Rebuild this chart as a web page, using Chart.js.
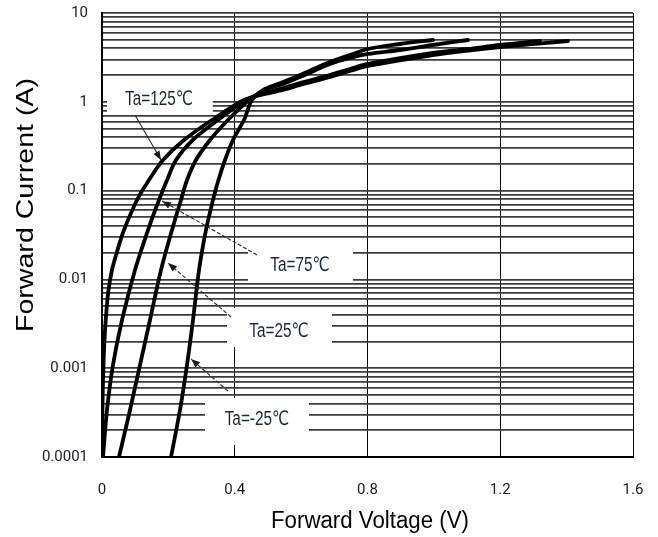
<!DOCTYPE html>
<html><head><meta charset="utf-8">
<script src="https://cdn.jsdelivr.net/npm/chart.js@4.4.1/dist/chart.umd.min.js"></script>
<style>html,body{margin:0;padding:0;background:#fff;}#wrap{width:658px;height:537px;position:relative;}</style>
</head><body><div id="wrap"><canvas id="c" width="658" height="537"></canvas></div>
<script>
// ---- data ----
const seriesNames = ['Ta=125℃', 'Ta=75℃', 'Ta=25℃', 'Ta=-25℃'];
const v125 = [0, 0.0009, 0.003, 0.0075, 0.0136, 0.0196, 0.0301, 0.0467, 0.0663, 0.1055, 0.1416, 0.1838, 0.2471, 0.3314, 0.4278, 0.4911, 0.5454, 0.5966, 0.687, 0.7472, 0.8015, 0.9973, 1.1992, 1.404];
const i125 = [0.0001, 0.000261, 0.000736, 0.00208, 0.00452, 0.0076, 0.01276, 0.02143, 0.03598, 0.07834, 0.1316, 0.2211, 0.3713, 0.6237, 1.048, 1.224, 1.358, 1.546, 1.902, 2.223, 2.53, 3.365, 4.141, 4.838];
const v75 = [0.003, 0.015, 0.0331, 0.0603, 0.0994, 0.1386, 0.1717, 0.196, 0.223, 0.2732, 0.3495, 0.4339, 0.4911, 0.5454, 0.5966, 0.687, 0.7472, 0.8015, 0.9973, 1.1028, 1.1992, 1.3197];
const i75 = [0.0001, 0.000338, 0.001087, 0.00349, 0.01276, 0.03598, 0.07834, 0.1316, 0.2211, 0.3713, 0.6237, 1.048, 1.256, 1.43, 1.628, 2.004, 2.341, 2.666, 3.545, 3.932, 4.361, 4.838];
const v25 = [0.0512, 0.0844, 0.1145, 0.1446, 0.1778, 0.2109, 0.238, 0.2561, 0.2832, 0.3254, 0.3796, 0.4429, 0.4911, 0.5454, 0.5966, 0.687, 0.7472, 0.8015, 0.8979, 0.9973, 1.1028];
const i25 = [0.0001, 0.000338, 0.001087, 0.00349, 0.01276, 0.03598, 0.07834, 0.1316, 0.2211, 0.3713, 0.6237, 1.048, 1.358, 1.587, 1.902, 2.666, 3.113, 3.454, 3.831, 4.361, 4.965];
const vm25 = [0.2079, 0.235, 0.2561, 0.2742, 0.2923, 0.3133, 0.3344, 0.3509, 0.3706, 0.3947, 0.4278, 0.452, 0.4911, 0.5454, 0.5966, 0.687, 0.7472, 0.8015, 0.8979, 0.9973];
const im25 = [0.0001, 0.000338, 0.001087, 0.00349, 0.01276, 0.03598, 0.07834, 0.1316, 0.2211, 0.3713, 0.6237, 1.048, 1.394, 1.671, 2.004, 2.807, 3.365, 3.932, 4.476, 4.965];
const xTickValues = [0, 0.4, 0.8, 1.2, 1.6];
const xTickLabels = ['0', '0.4', '0.8', '1.2', '1.6'];
const yDecades = [0.0001, 0.001, 0.01, 0.1, 1, 10];
const yTickLabels = ['0.0001', '0.001', '0.01', '0.1', '1', '10'];
const xTitle = 'Forward Voltage (V)';
const yTitle = 'Forward Current (A)';

// ---- label annotations (data coordinates) ----
const notes = [
  {text: seriesNames[0], at: [0.1717, 1.075], box: [0.015, 1.225, 0.334, 0.748], arrow: [0.0994, 0.710, 0.1778, 0.221], dash: []},
  {text: seriesNames[1], at: [0.5966, 0.01452], box: [0.440, 0.02143, 0.756, 0.00959], arrow: [0.467, 0.01884, 0.1808, 0.0764], dash: [4, 2]},
  {text: seriesNames[2], at: [0.5333, 0.00256], box: [0.3766, 0.004764, 0.693, 0.001733], arrow: [0.3887, 0.003776, 0.1989, 0.01531], dash: [4, 2]},
  {text: seriesNames[3], at: [0.467, 0.0002612], box: [0.3104, 0.000462, 0.6237, 0.0001365], arrow: [0.3797, 0.000553, 0.2682, 0.001271], dash: [4, 2]}
];

function pts(vs, is) { return vs.map((v, k) => ({x: v, y: is[k]})); }
const curves = [pts(v125, i125), pts(v75, i75), pts(v25, i25), pts(vm25, im25)];

const tickFont = "Roboto, 'Liberation Sans', sans-serif";
const labelFont = "'Liberation Sans', 'DejaVu Sans', sans-serif";

const notesPlugin = {
  id: 'notes',
  beforeDatasetsDraw(chart) {
    const {ctx, scales: {x, y}} = chart;
    ctx.save();
    ctx.fillStyle = '#ffffff';
    notes.forEach(n => {
      const x0 = x.getPixelForValue(n.box[0]), y0 = y.getPixelForValue(n.box[1]);
      const x1 = x.getPixelForValue(n.box[2]), y1 = y.getPixelForValue(n.box[3]);
      ctx.fillRect(x0, y0, x1 - x0, y1 - y0);
    });
    ctx.restore();
  },
  afterDatasetsDraw(chart) {
    const {ctx, scales: {x, y}} = chart;
    ctx.save();
    ctx.font = '19px ' + labelFont;
    const sx = 68 / ctx.measureText(seriesNames[0]).width;
    notes.forEach(n => {
      const ax = x.getPixelForValue(n.arrow[0]), ay = y.getPixelForValue(n.arrow[1]);
      const bx = x.getPixelForValue(n.arrow[2]), by = y.getPixelForValue(n.arrow[3]);
      ctx.strokeStyle = '#2a2a2a'; ctx.lineWidth = 1.1; ctx.setLineDash(n.dash);
      ctx.beginPath(); ctx.moveTo(ax, ay); ctx.lineTo(bx, by); ctx.stroke();
      ctx.setLineDash([]);
      const ang = Math.atan2(by - ay, bx - ax), L = 9, W = 3.5;
      ctx.fillStyle = '#1a1a1a';
      ctx.beginPath();
      ctx.moveTo(bx, by);
      ctx.lineTo(bx - L * Math.cos(ang) + W * Math.sin(ang), by - L * Math.sin(ang) - W * Math.cos(ang));
      ctx.lineTo(bx - L * Math.cos(ang) - W * Math.sin(ang), by - L * Math.sin(ang) + W * Math.cos(ang));
      ctx.closePath(); ctx.fill();
      ctx.save();
      ctx.fillStyle = '#1c2838';
      ctx.textAlign = 'center'; ctx.textBaseline = 'middle';
      ctx.translate(x.getPixelForValue(n.at[0]), y.getPixelForValue(n.at[1]));
      ctx.scale(sx, 1.05);
      ctx.fillText(n.text, 0, 0);
      ctx.restore();
    });
    ctx.restore();
  },
  afterDraw(chart) {
    const {ctx} = chart;
    ctx.save();
    ctx.fillStyle = '#000';
    ctx.textAlign = 'center'; ctx.textBaseline = 'middle';
    ctx.font = '24px "Liberation Sans", Arial, sans-serif';
    let w = ctx.measureText(yTitle).width;
    ctx.translate(26, 205); ctx.rotate(-Math.PI / 2); ctx.scale(254 / w, 1);
    ctx.fillText(yTitle, 0, 0);
    ctx.restore();
    ctx.save();
    ctx.fillStyle = '#000';
    ctx.textAlign = 'center'; ctx.textBaseline = 'alphabetic';
    ctx.font = '23px "Liberation Sans", Arial, sans-serif';
    w = ctx.measureText(xTitle).width;
    ctx.translate(370, 528); ctx.scale(198 / w, 1);
    ctx.fillText(xTitle, 0, 0);
    ctx.restore();
  }
};

const yTickValues = [];
yDecades.forEach(d => { if (d < 10) { for (let m = 1; m <= 9; m++) yTickValues.push(+(d * m).toPrecision(3)); } else yTickValues.push(d); });

new Chart(document.getElementById('c'), {
  type: 'scatter',
  data: {
    datasets: curves.map((c, k) => ({
      label: seriesNames[k], data: c, showLine: true, borderColor: '#000', backgroundColor: '#000',
      borderWidth: 3.8, pointRadius: 0, tension: 0.3, fill: false, borderJoinStyle: 'round', borderCapStyle: 'round'
    }))
  },
  options: {
    responsive: false, animation: false, devicePixelRatio: 1,
    layout: {padding: {top: 13, right: 25, left: 0, bottom: 0}},
    plugins: {legend: {display: false}, tooltip: {enabled: false}},
    scales: {
      x: {
        type: 'linear', min: 0, max: 1.6,
        afterBuildTicks: s => { s.ticks = xTickValues.map(v => ({value: v})); },
        afterFit: s => { s.height = 80; s.paddingLeft = 0; s.paddingRight = 0; },
        ticks: {autoSkip: false, maxRotation: 0, padding: 24, color: '#1a1a2a', font: {family: tickFont, size: 15},
          callback: (v) => { const k = xTickValues.indexOf(v); return k >= 0 ? xTickLabels[k] : ''; }},
        grid: {color: '#000', lineWidth: 1, drawTicks: false},
        border: {color: '#000', width: 2},
        title: {display: false}
      },
      y: {
        type: 'logarithmic', min: 0.0001, max: 10,
        afterBuildTicks: s => { s.ticks = yTickValues.map(v => ({value: v})); },
        afterFit: s => { s.width = 102; s.paddingTop = 0; s.paddingBottom = 0; },
        ticks: {autoSkip: false, padding: 14, color: '#1a1a2a', font: {family: tickFont, size: 15},
          callback: (v) => { const k = yDecades.findIndex(d => Math.abs(d - v) / d < 1e-6); return k >= 0 ? yTickLabels[k] : ''; }},
        grid: {color: '#3c3c3c', lineWidth: 1.7, drawTicks: false},
        border: {color: '#000', width: 2},
        title: {display: false}
      }
    }
  },
  plugins: [notesPlugin]
});
</script>
</body></html>
